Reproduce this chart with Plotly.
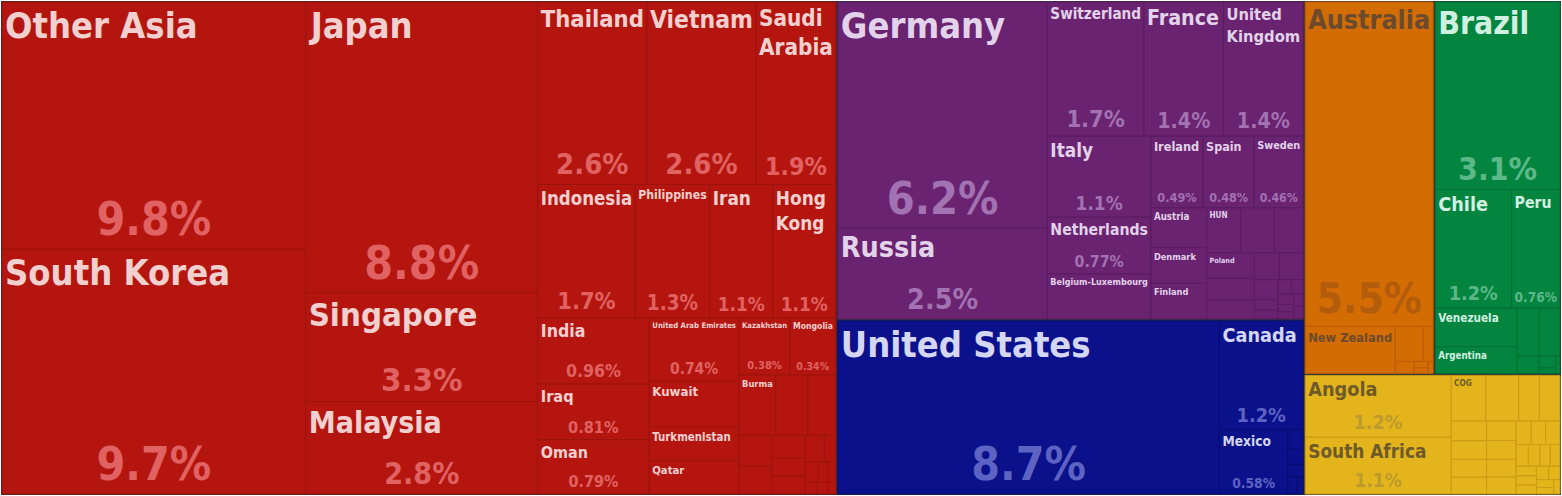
import math
import plotly.graph_objects as go

# ---------------- data ----------------
continents = ["Asia", "Europe", "North America", "Oceania", "South America", "Africa"]

asia_names = ["Other Asia", "South Korea", "Japan", "Singapore", "Malaysia", "Thailand",
              "Vietnam", "Saudi Arabia", "Indonesia", "Philippines", "Iran", "Hong Kong",
              "India", "Iraq", "Oman", "United Arab Emirates", "Kuwait", "Turkmenistan",
              "Qatar", "Kazakhstan", "Mongolia", "Burma"]
asia_values = [9.8, 9.7, 8.8, 3.3, 2.8, 2.6, 2.6, 1.9, 1.7, 1.3, 1.1, 1.1,
               0.96, 0.81, 0.79, 0.74, 0.53, 0.40, 0.39, 0.38, 0.34, 0.29]
asia_small = [0.25, 0.22, 0.13, 0.12, 0.10, 0.08, 0.08, 0.065, 0.04, 0.035,
              0.025, 0.022, 0.018, 0.016, 0.012]

europe_names = ["Germany", "Russia", "Switzerland", "France", "United Kingdom", "Italy",
                "Netherlands", "Belgium-Luxembourg", "Ireland", "Spain", "Sweden",
                "Austria", "Denmark", "Finland", "HUN", "Poland"]
europe_values = [6.2, 2.5, 1.7, 1.4, 1.4, 1.1, 0.77, 0.61, 0.49, 0.48, 0.46,
                 0.29, 0.26, 0.26, 0.20, 0.16]
europe_small = [0.20, 0.17, 0.136, 0.118, 0.087, 0.084, 0.062, 0.033, 0.027,
                0.025, 0.022, 0.022, 0.015, 0.015, 0.015, 0.015]

namerica_names = ["United States", "Canada", "Mexico"]
namerica_values = [8.7, 1.2, 0.58]
namerica_small = [0.04, 0.03, 0.025, 0.02, 0.015]

oceania_names = ["Australia", "New Zealand"]
oceania_values = [5.5, 0.56]
oceania_small = [0.13, 0.046, 0.03, 0.012, 0.01, 0.008]

samerica_names = ["Brazil", "Chile", "Peru", "Venezuela", "Argentina"]
samerica_values = [3.1, 1.2, 0.76, 0.42, 0.29]
samerica_small = [0.14, 0.13, 0.05, 0.027, 0.012, 0.01]

africa_names = ["Angola", "South Africa", "COG"]
africa_values = [1.2, 1.1, 0.21]
africa_small = [0.20, 0.125, 0.125, 0.093, 0.088, 0.084, 0.079, 0.077, 0.074, 0.07,
                0.066, 0.047, 0.045, 0.045, 0.035, 0.033, 0.03, 0.028, 0.026, 0.025,
                0.024, 0.022, 0.02, 0.018, 0.015, 0.012]

# cells whose share is printed in the reference
pct_shown = {"Other Asia", "South Korea", "Japan", "Singapore", "Malaysia", "Thailand",
             "Vietnam", "Saudi Arabia", "Indonesia", "Philippines", "Iran", "Hong Kong",
             "India", "Iraq", "Oman", "United Arab Emirates", "Kazakhstan", "Mongolia",
             "Germany", "Russia", "Switzerland", "France", "United Kingdom", "Italy",
             "Netherlands", "Ireland", "Spain", "Sweden",
             "United States", "Canada", "Mexico", "Australia",
             "Brazil", "Chile", "Peru", "Angola", "South Africa"}

wrapped = {"Saudi Arabia": "Saudi<br>Arabia", "Hong Kong": "Hong<br>Kong",
           "United Kingdom": "United<br>Kingdom"}

groups = {
    "Asia": (asia_names, asia_values, asia_small),
    "Europe": (europe_names, europe_values, europe_small),
    "North America": (namerica_names, namerica_values, namerica_small),
    "Oceania": (oceania_names, oceania_values, oceania_small),
    "South America": (samerica_names, samerica_values, samerica_small),
    "Africa": (africa_names, africa_values, africa_small),
}

# ---------------- styles ----------------
fill = {"Asia": "#b4160f", "Europe": "#6a2370", "North America": "#0b118a",
        "Oceania": "#d46c04", "South America": "#04853f", "Africa": "#e4b41c"}
edge = {"Asia": "#9c130d", "Europe": "#5a1d60", "North America": "#080d70",
        "Oceania": "#b95d04", "South America": "#036f35", "Africa": "#c99d17"}
label_col = {"Asia": "#f2d0d0", "Europe": "#e2d2ea", "North America": "#d4d6f2",
             "Oceania": "#6b4a2e", "South America": "#d2f0e2", "Africa": "#6e5a2a"}
pct_col = {"Asia": "#e06262", "Europe": "#a272b2", "North America": "#5d63c2",
           "Oceania": "#b25c0c", "South America": "#5cb888", "Africa": "#bc9a2c"}
seam = "#27303b"
FONT = "DejaVu Sans Condensed, Liberation Sans Narrow, sans-serif"

ids, labels, parents, values = ["World"], [""], [""], [0]
colors, lines, lwidths = [seam], [seam], [0]
txt_a, txt_b = [""], [""]
col_a, col_b, size_a, size_b = [seam], [seam], [10], [10]

for c in continents:
    ids.append(c); labels.append(""); parents.append("World"); values.append(0)
    colors.append(seam); lines.append(seam); lwidths.append(0)
    txt_a.append(""); txt_b.append("")
    col_a.append(seam); col_b.append(seam); size_a.append(10); size_b.append(10)
    names, vals, small = groups[c]
    entries = list(zip(names, vals)) + [(None, v) for v in small]
    for i, (n, v) in enumerate(entries):
        ids.append(n if n else f"{c}-{i}")
        labels.append(n if n else "")
        parents.append(c)
        values.append(v)
        colors.append(fill[c]); lines.append(edge[c]); lwidths.append(1)
        txt_a.append(wrapped.get(n, n) if n else "")
        txt_b.append(f"{v:g}%" if n in pct_shown else "")
        col_a.append(label_col[c]); col_b.append(pct_col[c])
        s = 18 * math.sqrt(v)
        size_a.append(min(36, s))
        size_b.append(min(46, s))

common = dict(ids=ids, labels=labels, parents=parents, values=values,
              branchvalues="remainder", sort=True,
              tiling=dict(packing="squarify", squarifyratio=1.618, pad=0),
              pathbar=dict(visible=False), root=dict(color=seam),
              domain=dict(x=[0, 1], y=[0, 1]))

fig = go.Figure()
fig.add_trace(go.Treemap(
    **common,
    marker=dict(colors=colors, line=dict(color=lines, width=lwidths),
                pad=dict(t=1, l=1, r=1, b=1)),
    text=txt_a, texttemplate="<b>%{text}</b>", textposition="top left",
    textfont=dict(family=FONT, color=col_a, size=size_a),
    hoverinfo="label+value",
))
fig.add_trace(go.Treemap(
    **common,
    marker=dict(colors=["rgba(0,0,0,0)"] * len(ids), line=dict(width=0),
                pad=dict(t=1, l=1, r=1, b=1)),
    text=txt_b, texttemplate="<b>%{text}</b>", textposition="bottom center",
    textfont=dict(family=FONT, color=col_b, size=size_b),
    hoverinfo="skip",
))
fig.update_layout(width=1562, height=496, margin=dict(l=0, r=0, t=0, b=0),
                  paper_bgcolor=seam, showlegend=False)
fig.write_html("out.html", config={"displayModeBar": False},
               post_script="document.body.style.margin='0';")
